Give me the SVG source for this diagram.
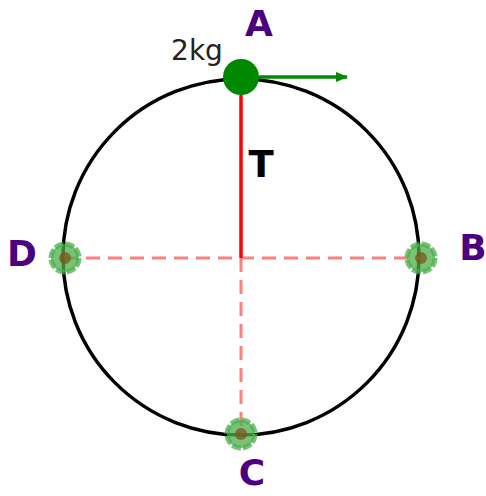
<svg xmlns="http://www.w3.org/2000/svg" width="486" height="496" viewBox="0 0 486 496">
<defs>
<marker id="ah" markerWidth="12" markerHeight="10" refX="11" refY="5" orient="auto" markerUnits="userSpaceOnUse">
<path d="M0,0 L12,5 L0,10 Z" fill="#008800"/>
</marker>
<g id="ghost">
<circle r="14" fill="#4caf4c" fill-opacity="0.75" stroke="#4caf4c" stroke-opacity="0.75" stroke-width="5" stroke-dasharray="8.9 2.1"/>
<circle r="6" fill="#7a5a1a" fill-opacity="0.75"/>
</g>
</defs>
<style>
.lbl{font-family:"DejaVu Sans",sans-serif;font-weight:bold;font-size:36px;fill:#4b0082;text-anchor:middle}
.dash{stroke:#ff8080;stroke-width:3;stroke-dasharray:14 8;fill:none}
</style>
<rect width="486" height="496" fill="#ffffff"/>
<g id="track"><circle cx="241" cy="257" r="178" fill="none" stroke="#000" stroke-width="3.5"/></g>
<g id="connectors">
<line class="dash" x1="64" y1="258" x2="421" y2="258"/>
<line class="dash" x1="241" y1="258" x2="241" y2="435"/>
<line x1="241" y1="95" x2="241" y2="258" stroke="#ff0000" stroke-width="3.5"/>
<line x1="259" y1="77" x2="347" y2="77" stroke="#008800" stroke-width="3.5" marker-end="url(#ah)"/>
</g>
<g id="nodeD"><use href="#ghost" x="65" y="258"/><text class="lbl" x="22" y="266">D</text></g>
<g id="nodeB"><use href="#ghost" x="421" y="258"/><text class="lbl" x="473" y="260">B</text></g>
<g id="nodeC"><use href="#ghost" x="241" y="434"/><text class="lbl" x="252" y="485" font-size="34">C</text></g>
<g id="nodeA">
<circle cx="241" cy="77" r="18" fill="#008800"/>
<text class="lbl" x="259" y="36">A</text>
<text x="197" y="60" font-family="DejaVu Sans,sans-serif" font-size="28" fill="#222" text-anchor="middle">2kg</text>
</g>
<g id="labelT"><text x="261" y="177" font-family="DejaVu Sans,sans-serif" font-weight="bold" font-size="37" fill="#000" text-anchor="middle">T</text></g>
</svg>
